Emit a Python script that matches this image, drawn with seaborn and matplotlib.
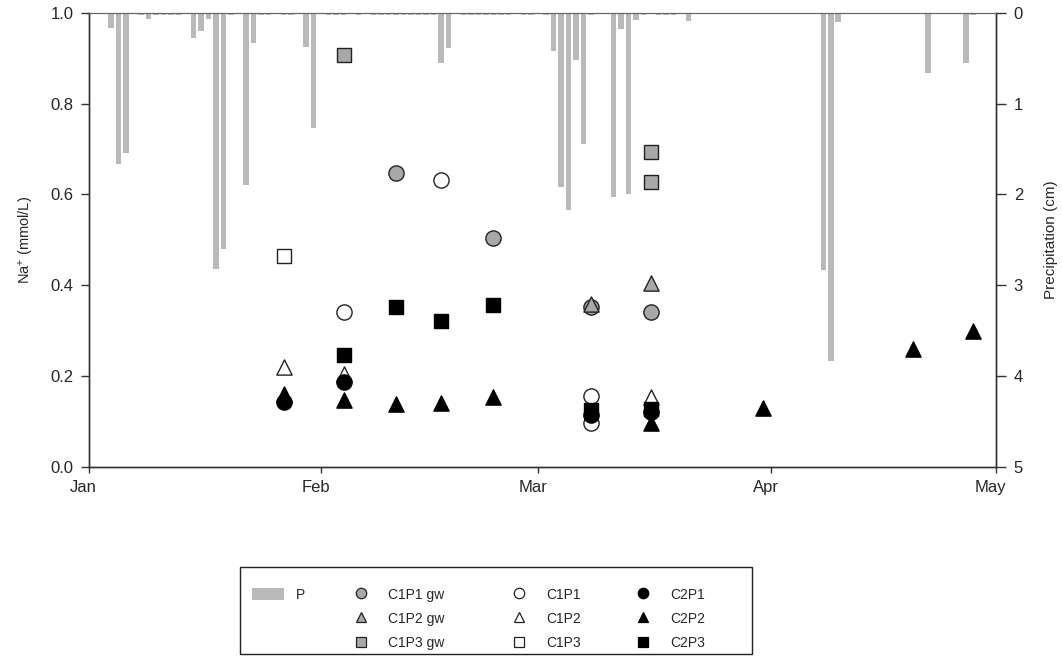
import matplotlib
matplotlib.use("Agg")
import matplotlib.pyplot as plt
import matplotlib.dates as mdates
import matplotlib.transforms as mtransforms
from matplotlib.lines import Line2D
from matplotlib.patches import Patch, Rectangle
import seaborn as sns
import pandas as pd

# ---------------- data ----------------
precip_dates = ["2012-01-04", "2012-01-05", "2012-01-06", "2012-01-08", "2012-01-09",
                "2012-01-10", "2012-01-11", "2012-01-12", "2012-01-13", "2012-01-15",
                "2012-01-16", "2012-01-17", "2012-01-18", "2012-01-19", "2012-01-20",
                "2012-01-22", "2012-01-23", "2012-01-24", "2012-01-25", "2012-01-27",
                "2012-01-28", "2012-01-30", "2012-01-31", "2012-02-02", "2012-02-03",
                "2012-02-04", "2012-02-06", "2012-02-08", "2012-02-09", "2012-02-10",
                "2012-02-11", "2012-02-12", "2012-02-13", "2012-02-14", "2012-02-15",
                "2012-02-16", "2012-02-17", "2012-02-18", "2012-02-20", "2012-02-21",
                "2012-02-22", "2012-02-23", "2012-02-24", "2012-02-25", "2012-02-26",
                "2012-02-28", "2012-02-29", "2012-03-02", "2012-03-03", "2012-03-04",
                "2012-03-05", "2012-03-06", "2012-03-07", "2012-03-08", "2012-03-11",
                "2012-03-12", "2012-03-13", "2012-03-14", "2012-03-15", "2012-03-17",
                "2012-03-18", "2012-03-19", "2012-03-21", "2012-04-03", "2012-04-08",
                "2012-04-09", "2012-04-10", "2012-04-18", "2012-04-22", "2012-04-27",
                "2012-04-28"]
precip_cm = [0.16, 1.66, 1.54, 0.02, 0.07,
             0.02, 0.02, 0.02, 0.02, 0.28,
             0.20, 0.07, 2.82, 2.60, 0.02,
             1.89, 0.33, 0.02, 0.02, 0.02,
             0.02, 0.38, 1.27, 0.02, 0.02,
             0.02, 0.02, 0.02, 0.02, 0.02,
             0.02, 0.02, 0.02, 0.02, 0.02,
             0.02, 0.55, 0.39, 0.02, 0.02,
             0.02, 0.02, 0.02, 0.02, 0.02,
             0.02, 0.02, 0.02, 0.42, 1.92,
             2.17, 0.52, 1.44, 0.02, 2.03,
             0.18, 2.00, 0.08, 0.02, 0.02,
             0.02, 0.02, 0.09, 0.01, 2.83,
             3.83, 0.10, 0.01, 0.66, 0.55,
             0.02]

c1p1_gw_dates = ["2012-02-11", "2012-02-24", "2012-03-08", "2012-03-16"]
c1p1_gw = [0.647, 0.504, 0.352, 0.342]
c1p2_gw_dates = ["2012-03-08", "2012-03-16"]
c1p2_gw = [0.358, 0.405]
c1p3_gw_dates = ["2012-02-04", "2012-03-16", "2012-03-16"]
c1p3_gw = [0.907, 0.694, 0.627]

c1p1_dates = ["2012-02-04", "2012-02-17", "2012-03-08", "2012-03-08"]
c1p1 = [0.340, 0.632, 0.155, 0.097]
c1p2_dates = ["2012-01-27", "2012-02-04", "2012-03-16"]
c1p2 = [0.219, 0.204, 0.154]
c1p3_dates = ["2012-01-27"]
c1p3 = [0.465]

c2p1_dates = ["2012-01-27", "2012-02-04", "2012-03-08", "2012-03-16"]
c2p1 = [0.142, 0.187, 0.113, 0.120]
c2p2_dates = ["2012-01-27", "2012-02-04", "2012-02-11", "2012-02-17", "2012-02-24",
              "2012-03-16", "2012-03-31", "2012-04-20", "2012-04-28"]
c2p2 = [0.160, 0.147, 0.138, 0.141, 0.153, 0.097, 0.130, 0.259, 0.298]
c2p3_dates = ["2012-02-04", "2012-02-11", "2012-02-17", "2012-02-24", "2012-03-08",
              "2012-03-16"]
c2p3 = [0.247, 0.352, 0.322, 0.356, 0.126, 0.127]

yticks_left = [0.0, 0.2, 0.4, 0.6, 0.8, 1.0]
yticks_right = [0, 1, 2, 3, 4, 5]

# ---------------- style ----------------
sns.set_theme(style="ticks")
plt.rcParams["font.family"] = ["Liberation Sans", "DejaVu Sans"]
plt.rcParams["mathtext.fontset"] = "custom"
plt.rcParams["mathtext.rm"] = "Liberation Sans"
plt.rcParams["mathtext.it"] = "Liberation Sans:italic"
plt.rcParams["font.size"] = 10

GRAY_FILL = "#a8a8a8"
BAR_GRAY = "#b9b9b9"
EDGE = "#222222"
AXC = "#333333"
TICK_FS = 12

fig = plt.figure(figsize=(10.62, 6.67), dpi=100)
ax = fig.add_axes([0.0835, 0.3003, 0.8541, 0.6802])
ax2 = ax.twinx()

# precipitation bars (hanging from top)
pdates = pd.to_datetime(precip_dates)
ax2.bar(pdates, precip_cm, width=0.75, color=BAR_GRAY, edgecolor="none", zorder=1)
ax2.set_ylim(5, 0)
ax2.set_yticks(yticks_right)
ax2.set_yticklabels([str(t) for t in yticks_right])

# put sodium axis on top of bars
ax.set_zorder(ax2.get_zorder() + 1)
ax.patch.set_visible(False)

series = [
    (c1p1_gw_dates, c1p1_gw, "o", GRAY_FILL),
    (c1p2_gw_dates, c1p2_gw, "^", GRAY_FILL),
    (c1p3_gw_dates, c1p3_gw, "s", GRAY_FILL),
    (c1p1_dates, c1p1, "o", "white"),
    (c1p2_dates, c1p2, "^", "white"),
    (c1p3_dates, c1p3, "s", "white"),
    (c2p1_dates, c2p1, "o", "black"),
    (c2p2_dates, c2p2, "^", "black"),
    (c2p3_dates, c2p3, "s", "black"),
]
for d, v, m, c in series:
    df = pd.DataFrame({"date": pd.to_datetime(d), "val": v})
    size = 120 if m != "s" else 105
    sns.scatterplot(data=df, x="date", y="val", ax=ax, marker=m, color=c,
                    edgecolor=EDGE if c != "black" else "black", linewidth=1.0,
                    s=size, legend=False, zorder=3)

ax.set_ylim(0, 1.0)
ax.set_yticks(yticks_left)
ax.set_yticklabels([f"{t:.1f}" for t in yticks_left])
ax.set_xlim(pd.Timestamp("2012-01-01"), pd.Timestamp("2012-05-01"))
ax.xaxis.set_major_locator(mdates.MonthLocator())
ax.xaxis.set_major_formatter(mdates.DateFormatter("%b"))
ax.set_xlabel("")
ax.set_ylabel("Na$^{+}$ (mmol/L)", fontsize=10.5)
ax2.set_ylabel("Precipitation (cm)", fontsize=11)
ax.yaxis.set_label_coords(-0.058, 0.5)
ax2.yaxis.set_label_coords(1.053, 0.5)

for a in (ax, ax2):
    for s in a.spines.values():
        s.set_color(AXC)
        s.set_linewidth(1.0)
    a.spines["top"].set_visible(True)
    a.spines["top"].set_color("#666666")
    a.spines["top"].set_linewidth(0.8)
ax.tick_params(axis="y", direction="out", length=6, width=1, color=AXC, pad=5,
               labelsize=TICK_FS)
ax.tick_params(axis="x", direction="out", length=4.5, width=1, color=AXC, pad=5,
               labelsize=TICK_FS)
ax2.tick_params(axis="y", direction="out", length=7, width=1, color=AXC, pad=6,
                labelsize=TICK_FS)

# x tick labels sit slightly left of their ticks in the reference
shift = mtransforms.ScaledTranslation(-5 / 100, 0, fig.dpi_scale_trans)
for lab in ax.get_xticklabels():
    lab.set_transform(lab.get_transform() + shift)

# ---------------- legend ----------------
def mk(marker, fc):
    return Line2D([], [], linestyle="none", marker=marker, markersize=7.5,
                  markerfacecolor=fc, markeredgecolor=EDGE if fc != "black" else "black",
                  markeredgewidth=0.9)

col_specs = [
    ([Patch(facecolor=BAR_GRAY, edgecolor="none")], ["P"], 0.2375),
    ([mk("o", GRAY_FILL), mk("^", GRAY_FILL), mk("s", GRAY_FILL)],
     ["C1P1 gw", "C1P2 gw", "C1P3 gw"], 0.3245),
    ([mk("o", "white"), mk("^", "white"), mk("s", "white")],
     ["C1P1", "C1P2", "C1P3"], 0.4735),
    ([mk("o", "black"), mk("^", "black"), mk("s", "black")],
     ["C2P1", "C2P2", "C2P3"], 0.5900),
]
for handles, labels, x0 in col_specs:
    fig.legend(handles, labels, loc="upper left", bbox_to_anchor=(x0, 0.119),
               frameon=False, borderpad=0, borderaxespad=0, handlelength=2.3,
               handleheight=0.9, handletextpad=0.85, labelspacing=0.73, fontsize=10)

fig.add_artist(Rectangle((0.226, 0.02), 0.482, 0.130, transform=fig.transFigure,
                         fill=False, edgecolor="#222222", linewidth=1.0))

fig.savefig("out.png", dpi=100)
